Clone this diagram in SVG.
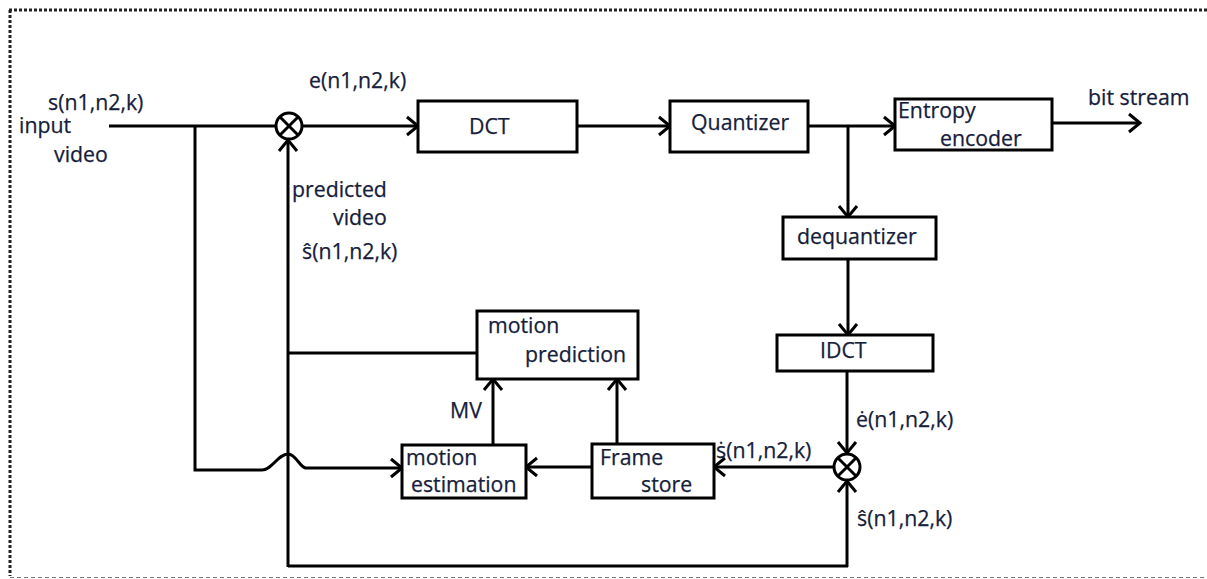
<svg xmlns="http://www.w3.org/2000/svg" width="1207" height="579" viewBox="0 0 1207 579">
  <style>
    .box { fill: #ffffff; stroke: #000000; stroke-width: 3; }
    .wire { fill: none; stroke: #000000; stroke-width: 3; }
    .lbl { font-family: "Open Sans", "Liberation Sans", sans-serif; font-size: 21.3px; fill: #15203a; stroke: #15203a; stroke-width: 0.25; }
    .frame-top { fill: none; stroke: #222222; stroke-width: 3; stroke-dasharray: 3 2; }
    .frame-bot { fill: none; stroke: #777777; stroke-width: 1; stroke-dasharray: 4 3; }
  </style>
  <defs>
    <marker id="arrow" markerUnits="userSpaceOnUse" markerWidth="16" markerHeight="22" refX="13" refY="11" orient="auto">
      <path d="M2,2 L13,11 L2,20" fill="none" stroke="#000000" stroke-width="3"/>
    </marker>
  </defs>

  <rect width="1207" height="579" fill="#ffffff"/>

  <!-- page border -->
  <g id="border">
    <path class="frame-top" d="M9,10 H1207 M10,10 V576"/>
    <path class="frame-bot" d="M10,577.5 H1207"/>
  </g>

  <!-- connectors -->
  <g id="connectors">
    <!-- input to summing junction -->
    <path class="wire" d="M109,126 H276"/>
    <!-- branch of input to motion estimation, hopping over the feedback line -->
    <path class="wire" marker-end="url(#arrow)" d="M195,126 V470 H262 C272,470 278,454 288,454 C296,454 300,468 306,468 H402"/>
    <!-- e(n1,n2,k) to DCT -->
    <path class="wire" marker-end="url(#arrow)" d="M303,126 H418"/>
    <!-- DCT to Quantizer -->
    <path class="wire" marker-end="url(#arrow)" d="M577,126 H670"/>
    <!-- Quantizer to entropy encoder -->
    <path class="wire" marker-end="url(#arrow)" d="M808,126 H895"/>
    <!-- Quantizer to dequantizer -->
    <path class="wire" marker-end="url(#arrow)" d="M848,126 V217"/>
    <!-- bit stream output -->
    <path class="wire" marker-end="url(#arrow)" d="M1052,123 H1140"/>
    <!-- dequantizer to IDCT -->
    <path class="wire" marker-end="url(#arrow)" d="M848,259 V335"/>
    <!-- IDCT to reconstruction junction -->
    <path class="wire" marker-end="url(#arrow)" d="M847,371 V453"/>
    <!-- reconstruction junction to frame store -->
    <path class="wire" marker-end="url(#arrow)" d="M833,467 H714"/>
    <!-- frame store to motion estimation -->
    <path class="wire" marker-end="url(#arrow)" d="M592,467 H526"/>
    <!-- frame store to motion prediction -->
    <path class="wire" marker-end="url(#arrow)" d="M617,444 V379"/>
    <!-- motion vectors to motion prediction -->
    <path class="wire" marker-end="url(#arrow)" d="M493,445 V379"/>
    <!-- predicted video loop: into the reconstruction junction and back to the input junction -->
    <path class="wire" marker-end="url(#arrow)" d="M847,567 V481"/>
    <path class="wire" d="M848,566 H288"/>
    <path class="wire" marker-end="url(#arrow)" d="M288,567 V140"/>
    <path class="wire" d="M288,353 H477"/>
  </g>

  <!-- summing junctions -->
  <g id="sum-top">
    <circle class="wire" cx="289" cy="126" r="13"/>
    <path class="wire" d="M280,117 L298,135 M298,117 L280,135"/>
  </g>
  <g id="sum-bottom">
    <circle class="wire" cx="847" cy="467" r="13"/>
    <path class="wire" d="M838,458 L856,476 M856,458 L838,476"/>
  </g>

  <g id="dct">
    <rect class="box" x="418" y="101" width="159" height="51"/>
    <text class="lbl" x="469" y="134">DCT</text>
  </g>
  <g id="quantizer">
    <rect class="box" x="670" y="101" width="138" height="51"/>
    <text class="lbl" x="691" y="130">Quantizer</text>
  </g>
  <g id="entropy-encoder">
    <rect class="box" x="895" y="99" width="157" height="51"/>
    <text class="lbl" x="898" y="118">Entropy</text>
    <text class="lbl" x="940" y="146">encoder</text>
  </g>
  <g id="dequantizer">
    <rect class="box" x="783" y="217" width="153" height="42"/>
    <text class="lbl" x="797" y="244">dequantizer</text>
  </g>
  <g id="idct">
    <rect class="box" x="777" y="335" width="156" height="36"/>
    <text class="lbl" x="820" y="358">IDCT</text>
  </g>
  <g id="motion-prediction">
    <rect class="box" x="477" y="311" width="161" height="68"/>
    <text class="lbl" x="488" y="333">motion</text>
    <text class="lbl" x="525" y="362">prediction</text>
  </g>
  <g id="motion-estimation">
    <rect class="box" x="402" y="445" width="124" height="53"/>
    <text class="lbl" x="406" y="465">motion</text>
    <text class="lbl" x="411" y="492">estimation</text>
  </g>
  <g id="frame-store">
    <rect class="box" x="592" y="444" width="122" height="54"/>
    <text class="lbl" x="600" y="465">Frame</text>
    <text class="lbl" x="641" y="492">store</text>
  </g>

  <!-- signal labels -->
  <g id="labels">
    <text class="lbl" x="48" y="110">s(n1,n2,k)</text>
    <text class="lbl" x="19" y="133">input</text>
    <text class="lbl" x="54" y="162">video</text>
    <text class="lbl" x="309" y="88">e(n1,n2,k)</text>
    <text class="lbl" x="292" y="197">predicted</text>
    <text class="lbl" x="333" y="225">video</text>
    <text class="lbl" x="302" y="259">ŝ(n1,n2,k)</text>
    <text class="lbl" x="1088" y="105">bit stream</text>
    <text class="lbl" x="450" y="418">MV</text>
    <text class="lbl" x="856" y="427">ė(n1,n2,k)</text>
    <text class="lbl" x="716" y="458">ṡ(n1,n2,k)</text>
    <text class="lbl" x="857" y="526">ŝ(n1,n2,k)</text>
  </g>
</svg>
